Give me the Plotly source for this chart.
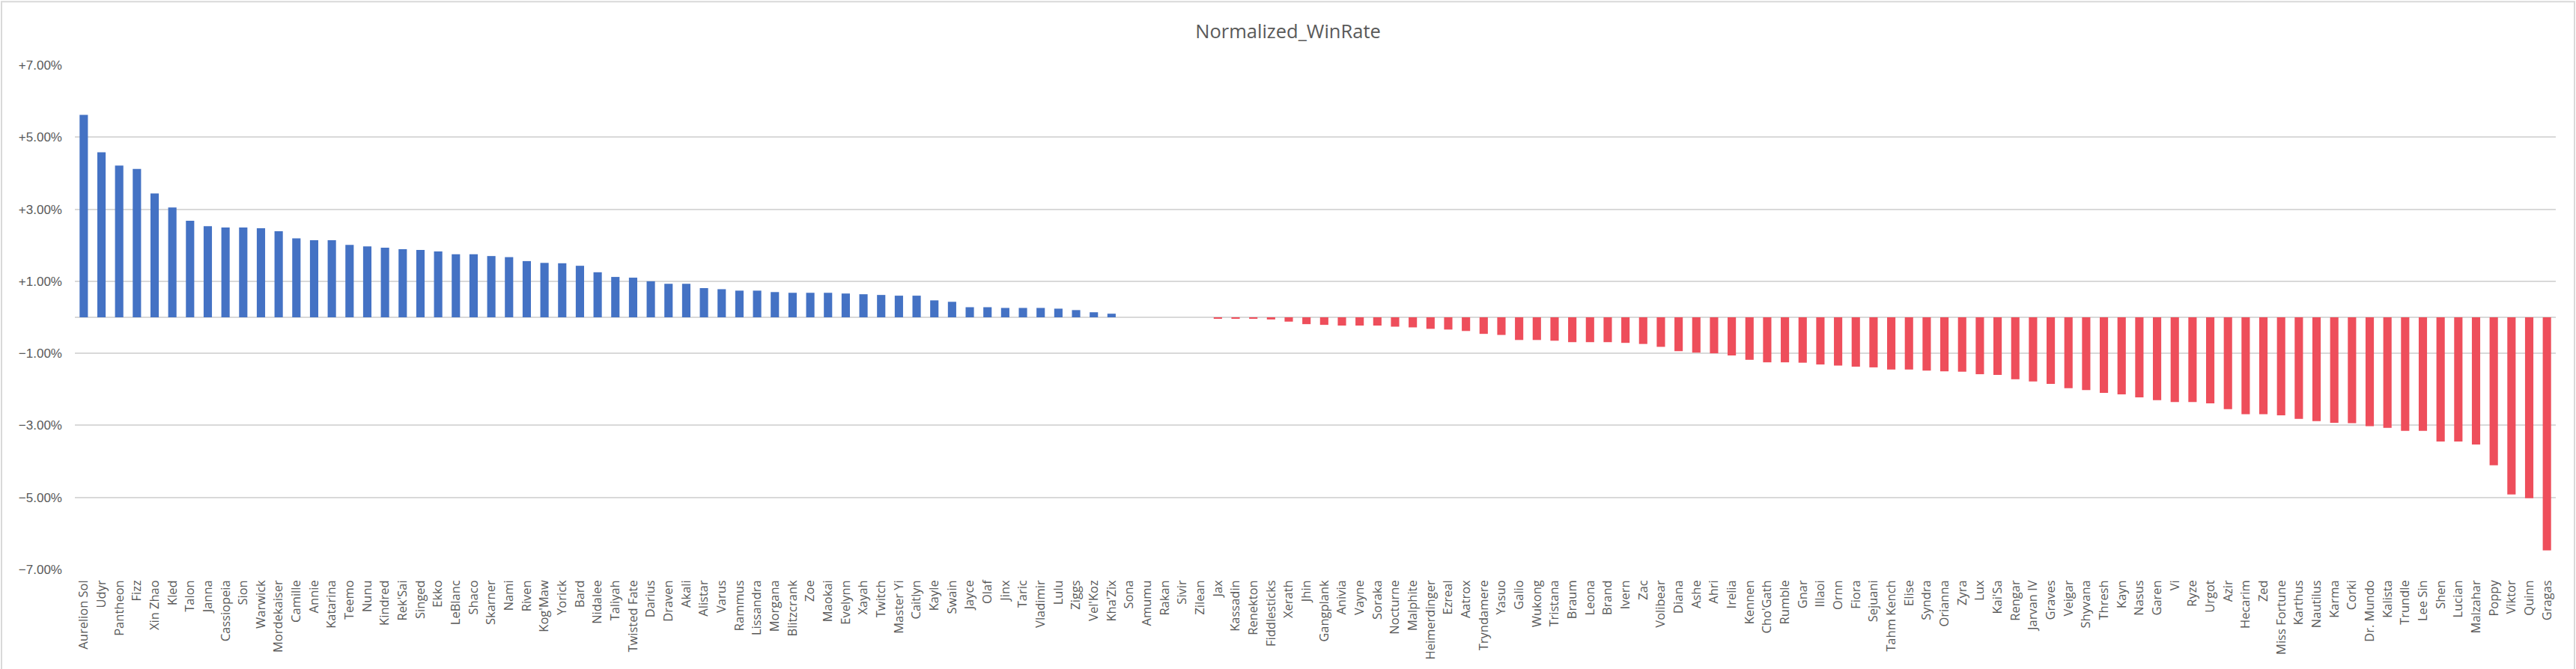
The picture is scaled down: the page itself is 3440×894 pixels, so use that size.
import plotly.graph_objects as go

champions = ["Aurelion Sol", "Udyr", "Pantheon", "Fizz", "Xin Zhao", "Kled", "Talon", "Janna", "Cassiopeia", "Sion",
             "Warwick", "Mordekaiser", "Camille", "Annie", "Katarina", "Teemo", "Nunu", "Kindred", "Rek'Sai", "Singed",
             "Ekko", "LeBlanc", "Shaco", "Skarner", "Nami", "Riven", "Kog'Maw", "Yorick", "Bard", "Nidalee",
             "Taliyah", "Twisted Fate", "Darius", "Draven", "Akali", "Alistar", "Varus", "Rammus", "Lissandra", "Morgana",
             "Blitzcrank", "Zoe", "Maokai", "Evelynn", "Xayah", "Twitch", "Master Yi", "Caitlyn", "Kayle", "Swain",
             "Jayce", "Olaf", "Jinx", "Taric", "Vladimir", "Lulu", "Ziggs", "Vel'Koz", "Kha'Zix", "Sona",
             "Amumu", "Rakan", "Sivir", "Zilean", "Jax", "Kassadin", "Renekton", "Fiddlesticks", "Xerath", "Jhin",
             "Gangplank", "Anivia", "Vayne", "Soraka", "Nocturne", "Malphite", "Heimerdinger", "Ezreal", "Aatrox", "Tryndamere",
             "Yasuo", "Galio", "Wukong", "Tristana", "Braum", "Leona", "Brand", "Ivern", "Zac", "Volibear",
             "Diana", "Ashe", "Ahri", "Irelia", "Kennen", "Cho'Gath", "Rumble", "Gnar", "Illaoi", "Ornn",
             "Fiora", "Sejuani", "Tahm Kench", "Elise", "Syndra", "Orianna", "Zyra", "Lux", "Kai'Sa", "Rengar",
             "Jarvan IV", "Graves", "Veigar", "Shyvana", "Thresh", "Kayn", "Nasus", "Garen", "Vi", "Ryze",
             "Urgot", "Azir", "Hecarim", "Zed", "Miss Fortune", "Karthus", "Nautilus", "Karma", "Corki", "Dr. Mundo",
             "Kalista", "Trundle", "Lee Sin", "Shen", "Lucian", "Malzahar", "Poppy", "Viktor", "Quinn", "Gragas"]

# normalized win rate, in percent
winrate = [5.62, 4.58, 4.21, 4.12, 3.44, 3.05, 2.68, 2.53, 2.49, 2.49,
           2.47, 2.39, 2.19, 2.14, 2.14, 2.01, 1.97, 1.93, 1.89, 1.87,
           1.83, 1.75, 1.75, 1.70, 1.67, 1.56, 1.51, 1.50, 1.43, 1.25,
           1.12, 1.10, 1.00, 0.93, 0.93, 0.81, 0.78, 0.74, 0.74, 0.70,
           0.68, 0.68, 0.68, 0.66, 0.64, 0.62, 0.60, 0.60, 0.47, 0.43,
           0.28, 0.28, 0.26, 0.26, 0.26, 0.24, 0.20, 0.14, 0.10, 0.0,
           0.0, 0.0, 0.0, 0.0, -0.04, -0.04, -0.04, -0.06, -0.12, -0.19,
           -0.21, -0.23, -0.23, -0.23, -0.26, -0.28, -0.32, -0.34, -0.38, -0.46,
           -0.49, -0.63, -0.63, -0.65, -0.69, -0.69, -0.69, -0.71, -0.74, -0.82,
           -0.94, -0.98, -1.00, -1.06, -1.18, -1.25, -1.25, -1.26, -1.31, -1.34,
           -1.37, -1.39, -1.45, -1.45, -1.48, -1.50, -1.51, -1.58, -1.60, -1.72,
           -1.78, -1.85, -1.97, -2.02, -2.10, -2.14, -2.22, -2.30, -2.35, -2.35,
           -2.39, -2.55, -2.69, -2.69, -2.72, -2.82, -2.88, -2.93, -2.94, -3.02,
           -3.07, -3.15, -3.15, -3.45, -3.45, -3.53, -4.11, -4.92, -5.02, -6.47]

blue = "#4472C4"
red = "#EE4E5B"
grey = "#595959"

vals = [v / 100 for v in winrate]
colors = [blue if v >= 0 else red for v in vals]

fig = go.Figure(go.Bar(x=champions, y=vals, marker_color=colors, marker_line_width=0))

W, H = 3440, 894
ml, mr, mt, mb = 100, 27, 87, 131
pw, ph = W - ml - mr, H - mt - mb

fig.update_layout(
    width=W, height=H,
    margin=dict(l=ml, r=mr, t=mt, b=mb),
    plot_bgcolor="white", paper_bgcolor="white",
    showlegend=False,
    bargap=0.53,
    title=dict(text="Normalized_WinRate", x=0.5, xanchor="center", y=1 - 42 / H, yanchor="middle",
               font=dict(family="Open Sans", size=25.5, color=grey)),
    xaxis=dict(type="category", tickangle=-90, tickfont=dict(family="Open Sans", size=16.5, color=grey),
               showgrid=False, showline=False, ticks="", ticklabelstandoff=10,
               range=[-0.5, len(champions) - 0.5]),
    yaxis=dict(range=[-0.07, 0.07], tick0=-0.07, dtick=0.02, tickformat="+.2%",
               tickfont=dict(family="Liberation Sans", size=17, color=grey),
               showgrid=True, gridcolor="#D9D9D9", gridwidth=1.5,
               zeroline=True, zerolinecolor="#D9D9D9", zerolinewidth=2,
               showline=False, ticks="", ticklabelstandoff=16),
)

# chart area border
fig.add_shape(type="rect", xref="paper", yref="paper",
              x0=(2 - ml) / pw, x1=(W - 2 - ml) / pw,
              y0=(mb - H + 2) / ph, y1=(H - mb - 2) / ph,
              line=dict(color="#D9D9D9", width=2), fillcolor="rgba(0,0,0,0)", layer="below")

# drop the default page margin so the figure sits at the window's corner
fig.write_html("out.html", config={"displayModeBar": False},
               post_script="document.body.style.margin='0px';")
